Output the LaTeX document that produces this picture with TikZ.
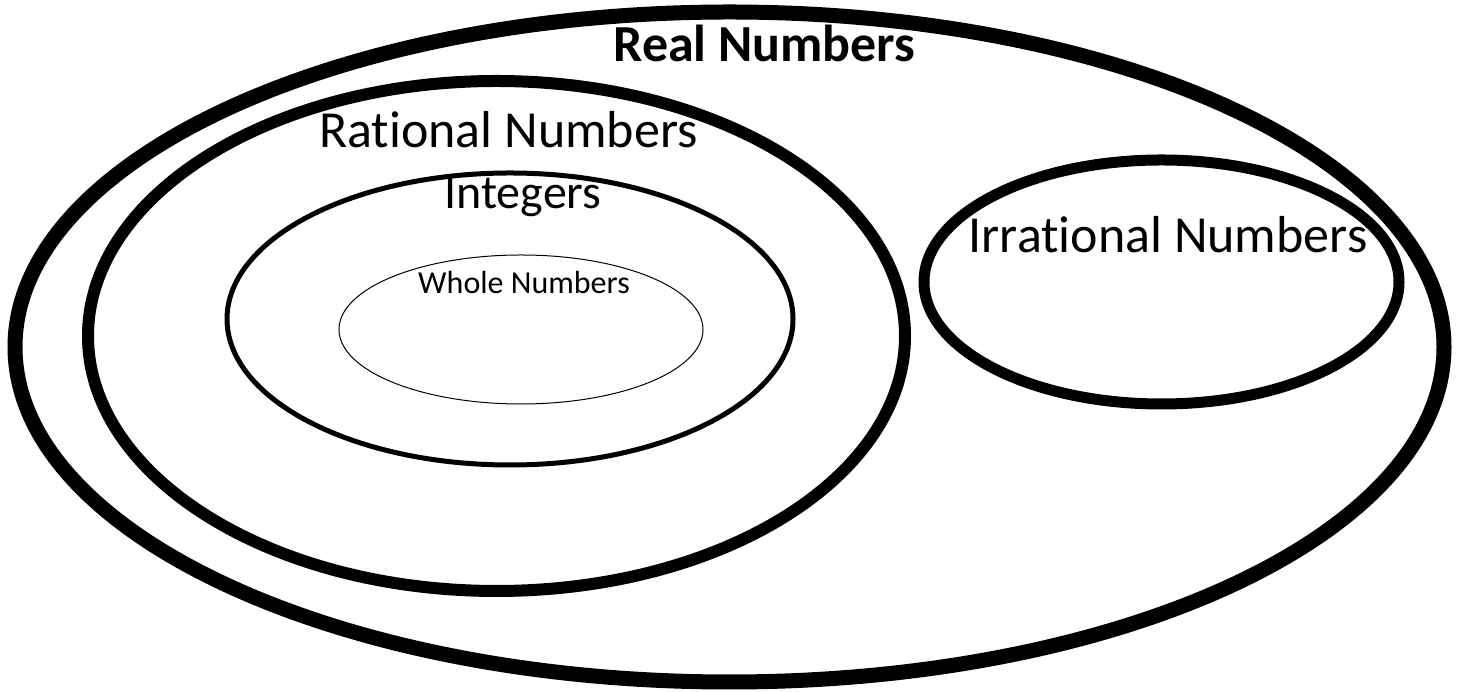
\documentclass[tikz,border=0pt]{standalone}
\usepackage{fontspec}
\setmainfont[Ligatures=NoCommon]{Carlito}
\begin{document}
\begin{tikzpicture}[x=1pt,y=1pt,
  lbl/.style={inner sep=0pt, anchor=base, text=black},
  ring/.style={draw=black, fill=none}]
\useasboundingbox (0,0) rectangle (1460,692);
% ellipses
\draw[ring, line width=15pt] (729.5,345) ellipse [x radius=714.5, y radius=335];
\draw[ring, line width=12pt] (496.5,356) ellipse [x radius=408.5, y radius=255];
\draw[ring, line width=5pt] (510,373) ellipse [x radius=283, y radius=146];
\draw[ring, line width=1pt] (521,362.5) ellipse [x radius=182, y radius=74.5];
\draw[ring, line width=11pt] (1161.5,410) ellipse [x radius=237.5, y radius=122];
% labels
\node[lbl, font=\fontsize{52}{62}\selectfont\bfseries] (real) at (764.5,630) {Real Numbers};
\node[lbl, font=\fontsize{52}{62}\selectfont] (rational) at (508.5,544) {Rat\kern0pt ional Numbers};
\node[lbl, font=\fontsize{48}{57}\selectfont] (integers) at (523,483) {Integers};
\node[lbl, font=\fontsize{52}{62}\selectfont] (irrational) at (1168,439) {Irrat\kern0pt ional Numbers};
\node[lbl, font=\fontsize{32}{38}\selectfont] (whole) at (524,398) {Whole Numbers};
\end{tikzpicture}
\end{document}
